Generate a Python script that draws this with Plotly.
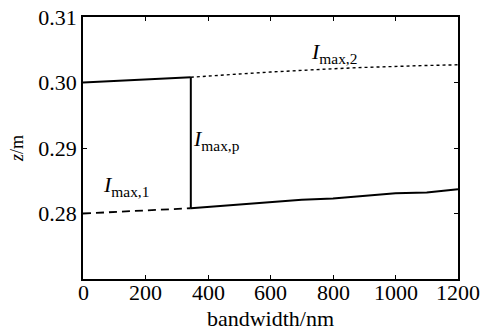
import plotly.graph_objects as go

# Data
bw_left = [0, 100, 200, 300, 345]
z_upper_left = [0.3000, 0.3002, 0.3004, 0.3007, 0.3008]
z_lower_left = [0.2800, 0.2802, 0.2804, 0.2806, 0.2808]

bw_right = [345, 400, 500, 600, 700, 800, 900, 1000, 1100, 1200]
z_upper_right = [0.3008, 0.3010, 0.3013, 0.3016, 0.3019, 0.3021, 0.3023, 0.3025, 0.3026, 0.3027]
z_lower_right = [0.2808, 0.2810, 0.2813, 0.2817, 0.2821, 0.2823, 0.2827, 0.2831, 0.2832, 0.2837]

jump_bw = [345, 345]
jump_z = [0.2808, 0.3008]

x_ticks = [0, 200, 400, 600, 800, 1000, 1200]
x_tick_labels = ["0", "200", "400", "600", "800", "1000", "1200"]
y_ticks = [0.28, 0.29, 0.30, 0.31]
y_tick_labels = ["0.28", "0.29", "0.30", "0.31"]

FONT = "Liberation Serif, Times New Roman, serif"

fig = go.Figure()
fig.add_trace(go.Scatter(x=bw_left, y=z_upper_left, mode="lines",
                         line=dict(color="black", width=2)))
fig.add_trace(go.Scatter(x=jump_bw, y=jump_z, mode="lines",
                         line=dict(color="black", width=2)))
fig.add_trace(go.Scatter(x=bw_right, y=z_upper_right, mode="lines",
                         line=dict(color="black", width=1.4, dash="dot")))
fig.add_trace(go.Scatter(x=bw_left, y=z_lower_left, mode="lines",
                         line=dict(color="black", width=1.8, dash="8px,5px")))
fig.add_trace(go.Scatter(x=bw_right, y=z_lower_right, mode="lines",
                         line=dict(color="black", width=2)))

def label(x, y, sub):
    fig.add_annotation(x=x, y=y, xref="x", yref="y", showarrow=False,
                       xanchor="left", yanchor="middle",
                       text="<i>I</i><sub>" + sub + "</sub>",
                       font=dict(family=FONT, size=22, color="black"))

label(722, 0.3045, "max,2")
label(347, 0.2912, "max,p")
label(58, 0.2842, "max,1")

# x tick labels placed just below the axis (closer than Plotly's default)
for v, t in zip(x_ticks, x_tick_labels):
    fig.add_annotation(x=v, y=0, xref="x", yref="paper", showarrow=False,
                       xanchor="center", yanchor="top", yshift=1,
                       text=t, font=dict(family=FONT, size=22, color="black"))

fig.update_layout(
    width=481, height=332,
    margin=dict(l=83, r=23, t=17, b=53),
    paper_bgcolor="white", plot_bgcolor="white",
    showlegend=False,
    font=dict(family=FONT, size=22, color="black"),
    xaxis=dict(range=[0, 1200], tickvals=x_ticks, ticktext=x_tick_labels,
               showticklabels=False, ticks="inside", ticklen=4,
               tickwidth=1.2, tickcolor="black", showline=True, linecolor="black",
               linewidth=1.5, mirror="ticks", showgrid=False, zeroline=False,
               automargin=False,
               title=dict(text="bandwidth/nm", standoff=31,
                          font=dict(family=FONT, size=22))),
    yaxis=dict(range=[0.27, 0.31], tickvals=y_ticks, ticktext=y_tick_labels,
               ticks="inside", ticklen=4, tickwidth=1.2, tickcolor="black",
               showline=True, linecolor="black", linewidth=1.5, mirror="ticks",
               showgrid=False, zeroline=False, automargin=False,
               tickfont=dict(size=22),
               title=dict(text="<i>z</i>/m", standoff=10,
                          font=dict(family=FONT, size=18))),
)

fig.write_html("out.html", config={"displayModeBar": False},
               post_script="document.body.style.margin='0px';document.body.style.overflow='hidden';")
